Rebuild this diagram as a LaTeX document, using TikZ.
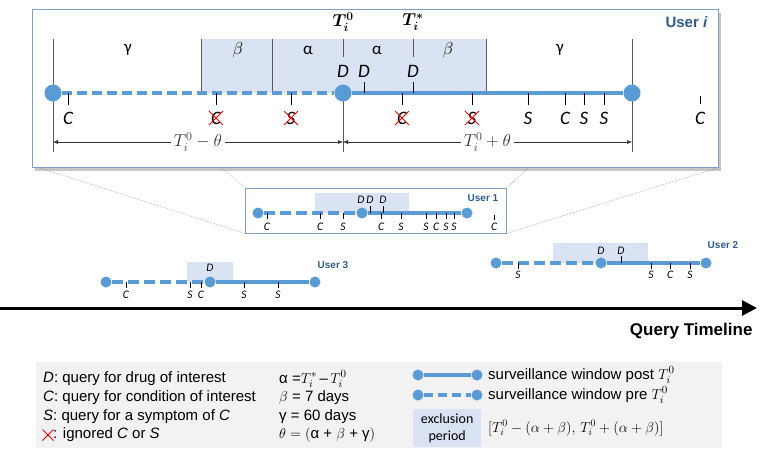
\documentclass[tikz,border=0pt]{standalone}
\usepackage{amsmath}
\usepackage[no-math]{fontspec}
\setmainfont{Liberation Sans}
\newfontfamily\calib{Carlito}
\usetikzlibrary{arrows.meta,shapes.misc,shadows}
\definecolor{winblue}{HTML}{5B9BD5}
\definecolor{exclfill}{HTML}{DAE3F3}
\definecolor{userblue}{HTML}{2F5C8A}
\definecolor{boxline}{HTML}{7F9FC4}
\definecolor{legbg}{HTML}{F2F2F2}

\begin{document}
\begin{tikzpicture}[x=1pt,y=-1pt,
    wdot/.style={circle,fill=winblue,inner sep=0pt,minimum size=#1},
    wdot/.default=11pt,
    winpost/.style={winblue,line width=#1},
    winpost/.default=3.5pt,
    winpre/.style={winblue,line width=#1,dash pattern=on 11pt off 5pt},
    winpre/.default=3.5pt,
    guide/.style={gray!70!black,line width=0.6pt},
    tk/.style={black,line width=0.8pt},
    biglbl/.style={inner sep=1pt,font=\calib\itshape\fontsize{19}{19}\selectfont},
    smlbl/.style={inner sep=0.5pt,font=\calib\itshape\fontsize{11.5}{11.5}\selectfont},
    greek/.style={font=\calib\fontsize{17}{17}\selectfont},
    ign/.style={cross out,draw=red,line width=0.9pt},
    userlbl/.style={text=userblue,font=\bfseries\fontsize{#1}{#1}\selectfont},
    dim/.style={black!80,line width=0.5pt,{Latex[length=5pt,width=4pt]}-{Latex[length=5pt,width=4pt]}},
    zoomline/.style={gray,densely dotted,line width=0.5pt},
    legtxt/.style={anchor=west,inner sep=0pt,font=\fontsize{15}{15}\selectfont}]
\useasboundingbox (0,0) rectangle (765,459);

% zoom call-out lines
\coordinate (z1) at (40,168);
\coordinate (z2) at (222,168);
\coordinate (z3) at (528,168);
\coordinate (z4) at (717,168);
\node[anchor=north west,inner sep=0pt,minimum width=261,minimum height=45] (u1pos) at (245,188) {};
\draw[zoomline] (z1) -- (u1pos.south west);
\draw[zoomline] (z2) -- (u1pos.north west);
\draw[zoomline] (z3) -- (u1pos.north east);
\draw[zoomline] (z4) -- (u1pos.south east);

% user i (zoomed)
\node[draw=boxline,line width=1pt,fill=white,anchor=north west,inner sep=0pt,
      minimum width=686,minimum height=158,
      drop shadow={shadow xshift=2pt,shadow yshift=-3pt,opacity=.45}] (zoombox) at (32,9) {};
\fill[exclfill] (201,39) rectangle (486,93);
\draw[guide] (201,39) -- (201,93) (272,39) -- (272,93) (486,39) -- (486,93);
\draw[guide] (53,39) -- (53,152) (632,39) -- (632,152);
\draw[guide] (343,39) -- (343,57) (343,93) -- (343,152) (413,39) -- (413,57);

\node[greek] (g1) at (128,50) {γ};
\node[greek] (b1) at (238,50) {$\beta$};
\node[greek] (a1) at (308,50) {α};
\node[greek] (a2) at (377,50) {α};
\node[greek] (b2) at (448,50) {$\beta$};
\node[greek] (g2) at (560,50) {γ};

\node[font=\fontsize{17}{17}\selectfont] (t0) at (343,22) {$\boldsymbol{T_i^0}$};
\node[font=\fontsize{17}{17}\selectfont] (ts) at (413,22) {$\boldsymbol{T_i^*}$};
\node[userlbl=15,anchor=east] (ui) at (711,22) {User \textit{i}};

\node[wdot=17pt] (w0) at (53,93) {};
\node[wdot=17pt] (w1) at (343,93) {};
\node[wdot=17pt] (w2) at (632,93) {};
\draw[winpre=4pt,dash pattern=on 10pt off 5pt] (w0) -- (w1);
\draw[winpost=4pt] (w1) -- (w2);

\node[biglbl] (d0) at (343,71) {D};
\foreach \x in {364,413} {
  \node[biglbl] (d\x) at (\x,71) {D};
  \draw[tk] (\x,82) -- (\x,93);
}
\foreach \x/\t in {68/C,528/S,565/C,584/S,604/S} {
  \draw[tk] (\x,93) -- (\x,105);
  \node[biglbl] (q\x) at (\x,118) {\t};
}
\foreach \x/\t in {216/C,291/S,402/C,472/S} {
  \draw[tk] (\x,93) -- (\x,105);
  \node[biglbl] (q\x) at (\x,118) {\t};
  \node[ign,minimum size=13pt] (x\x) at (\x,118) {};
}
\draw[tk] (700,96) -- (700,104);
\node[biglbl] (q700) at (700,118) {C};

\draw[dim] (w0|-0,142) -- node[fill=white,font=\fontsize{17}{17}\selectfont] (m1) {$T_i^0-\theta$} (w1|-0,142);
\draw[dim] (w1|-0,142) -- node[fill=white,font=\fontsize{17}{17}\selectfont] (m2) {$T_i^0+\theta$} (w2|-0,142);

% user 1
\node[draw=boxline,line width=0.8pt,fill=white,anchor=north west,inner sep=0pt,
      minimum width=261,minimum height=45] (u1box) at (245,188) {};
\fill[exclfill] (315,193) rectangle (409,213);
\node[wdot] (u1a) at (258,213) {};
\node[wdot] (u1b) at (362,213) {};
\node[wdot] (u1c) at (467,213) {};
\draw[winpre] (u1a) -- (u1b);
\draw[winpost] (u1b) -- (u1c);
\node[smlbl] (u1d) at (361,200) {D};
\foreach \x in {370,383} {
  \node[smlbl] (u1d\x) at (\x,200) {D};
  \draw[tk,line width=0.6pt] (\x,206) -- (\x,213);
}
\foreach \x/\t in {267/C,320/C,343/S,381/C,401/S,426/S,436/C,446/S,454/S} {
  \draw[tk,line width=0.6pt] (\x,213) -- (\x,219);
  \node[smlbl] (u1q\x) at (\x,227) {\t};
}
\draw[tk,line width=0.6pt] (494,215) -- (494,220);
\node[smlbl] (u1q494) at (494,227) {C};
\node[userlbl=10] (u1) at (483,198) {User 1};

% user 3
\fill[exclfill] (187,262) rectangle (233,282);
\node[wdot] (u3a) at (106,282) {};
\node[wdot] (u3b) at (210,282) {};
\node[wdot] (u3c) at (315,282) {};
\draw[winpre] (u3a) -- (u3b);
\draw[winpost] (u3b) -- (u3c);
\node[smlbl] (u3d) at (210,268) {D};
\foreach \x/\t in {126/C,190/S,201/C,244/S,278/S} {
  \draw[tk,line width=0.6pt] (\x,282) -- (\x,288);
  \node[smlbl] (u3q\x) at (\x,295) {\t};
}
\node[userlbl=10] (u3) at (333,265) {User 3};

% user 2
\fill[exclfill] (553,243) rectangle (648,263);
\node[wdot] (u2a) at (496,263) {};
\node[wdot] (u2b) at (601,263) {};
\node[wdot] (u2c) at (706,263) {};
\draw[winpre] (u2a) -- (u2b);
\draw[winpost] (u2b) -- (u2c);
\node[smlbl] (u2d) at (601,251) {D};
\node[smlbl] (u2d621) at (621,251) {D};
\draw[tk,line width=0.6pt] (621,256) -- (621,263);
\foreach \x/\t in {518/S,651/S,670/C,690/S} {
  \draw[tk,line width=0.6pt] (\x,263) -- (\x,269);
  \node[smlbl] (u2q\x) at (\x,275) {\t};
}
\node[userlbl=10] (u2) at (723,245) {User 2};

% query timeline
\coordinate (qs) at (0,308);
\coordinate (qe) at (757,308);
\draw[line width=3pt,-{Triangle[length=15pt,width=15pt]}] (qs) -- (qe);
\node[anchor=east,font=\bfseries\fontsize{17}{17}\selectfont] (qt) at (756,331) {Query Timeline};

% legend
\node[fill=legbg,anchor=north west,inner sep=0pt,minimum width=686,minimum height=86] (legend) at (36,362) {};
\node[legtxt] (l1) at (43,379) {\textit{D}: query for drug of interest};
\node[legtxt] (l2) at (43,398) {\textit{C}: query for condition of interest};
\node[legtxt] (l3) at (43,417) {\textit{S}: query for a symptom of \textit{C}};
\node[ign,minimum size=10pt,inner sep=0pt,line width=1pt] (lx) at (48,435) {};
\node[legtxt] (l4) at (53,435) {: ignored \textit{C} or \textit{S}};

\node[legtxt] (p1) at (279,379) {α =$T_i^*$\,–\,$T_i^0$};
\node[legtxt] (p2) at (279,398) {$\beta$ = 7 days};
\node[legtxt] (p3) at (279,417) {γ = 60 days};
\node[legtxt] (p4) at (279,435) {$\theta=($α + $\beta$ + γ$)$};

\node[wdot] (lp1) at (418,375) {};
\node[wdot] (lp2) at (477,375) {};
\draw[winpost] (lp1) -- (lp2);
\node[wdot] (lq1) at (418,395) {};
\node[wdot] (lq2) at (477,395) {};
\draw[winpre,dash pattern=on 9pt off 5pt] (lq1) -- (lq2);
\node[fill=exclfill,anchor=north west,inner sep=0pt,minimum width=68,minimum height=38,
      align=center,font=\calib\fontsize{14}{17}\selectfont] (lexcl) at (413,409) {exclusion\\period};
\node[legtxt] (s1) at (488,375) {surveillance window post $T_i^0$};
\node[legtxt] (s2) at (488,395) {surveillance window pre $T_i^0$};
\node[legtxt,font=\fontsize{14}{14}\selectfont] (s3) at (488,428) {$[T_i^0-(\alpha+\beta),\,T_i^0+(\alpha+\beta)]$};
\end{tikzpicture}
\end{document}
